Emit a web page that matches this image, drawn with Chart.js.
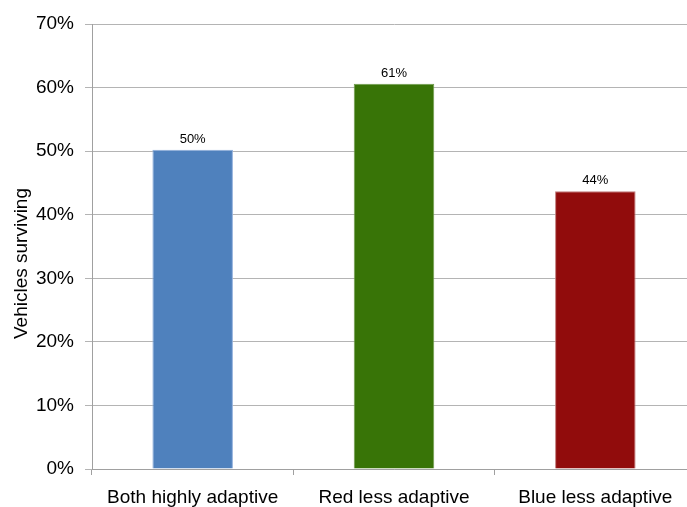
<!DOCTYPE html>
<html>
<head>
<meta charset="utf-8">
<script src="https://cdn.jsdelivr.net/npm/chart.js@4/dist/chart.umd.min.js"></script>
<style>
  html, body { margin: 0; padding: 0; background: #fff; overflow: hidden; }
  #wrap { width: 696px; height: 507px; }
</style>
</head>
<body>
<div id="wrap"><canvas id="grafico"></canvas></div>
<script>
const categorias = ['Both highly adaptive', 'Red less adaptive', 'Blue less adaptive'];
const valores = [0.502, 0.606, 0.437];
const cores = ['#4F81BD', '#387407', '#910C0C'];
const bordas = ['#8FAEDB', '#6E9A4C', '#C07A7A'];
const ticksY = [0, 0.1, 0.2, 0.3, 0.4, 0.5, 0.6, 0.7];
const tituloY = 'Vehicles surviving';

const fonte = "'Liberation Sans', Arial, sans-serif";

// rótulos acima das barras + título do eixo y
const rotulos = {
    id: 'rotulos',
    afterDatasetsDraw(chart) {
        const ctx = chart.ctx;
        const meta = chart.getDatasetMeta(0);
        ctx.save();
        ctx.font = '13px ' + fonte;
        ctx.fillStyle = '#000';
        ctx.textAlign = 'center';
        ctx.textBaseline = 'bottom';
        meta.data.forEach((bar, i) => {
            ctx.fillText(Math.round(valores[i] * 100) + '%', bar.x, bar.y - 4);
        });

        const area = chart.chartArea;
        ctx.translate(22, (area.top + area.bottom) / 2 + 17);
        ctx.rotate(-Math.PI / 2);
        ctx.font = '19px ' + fonte;
        ctx.textBaseline = 'middle';
        ctx.fillText(tituloY, 0, 0);
        ctx.restore();
    }
};

new Chart(document.getElementById('grafico'), {
    type: 'bar',
    data: {
        labels: categorias,
        datasets: [{
            data: valores,
            backgroundColor: cores,
            borderColor: bordas,
            borderWidth: 1,
            categoryPercentage: 1,
            barPercentage: 0.4
        }]
    },
    options: {
        responsive: true,
        maintainAspectRatio: false,
        animation: false,
        layout: { padding: { top: 24, left: 0, right: 0, bottom: 0 } },
        plugins: { legend: { display: false }, tooltip: { enabled: false } },
        scales: {
            x: {
                offset: true,
                grid: { offset: true, drawOnChartArea: false, drawTicks: true, tickLength: 6, color: '#a0a0a0' },
                border: { color: '#a0a0a0' },
                ticks: { color: '#000', font: { family: fonte, size: 19 }, padding: 11, maxRotation: 0 },
                afterFit(scale) { scale.height = 38; }
            },
            y: {
                min: 0,
                max: 0.7,
                afterBuildTicks(scale) { scale.ticks = ticksY.map(v => ({ value: v })); },
                grid: { color: '#b4b4b4', tickLength: 7 },
                border: { color: '#a0a0a0' },
                ticks: {
                    color: '#000',
                    font: { family: fonte, size: 19 },
                    padding: 11,
                    callback: v => Math.round(v * 100) + '%'
                },
                afterFit(scale) { scale.width = 92; }
            }
        }
    },
    plugins: [rotulos]
});
</script>
</body>
</html>
